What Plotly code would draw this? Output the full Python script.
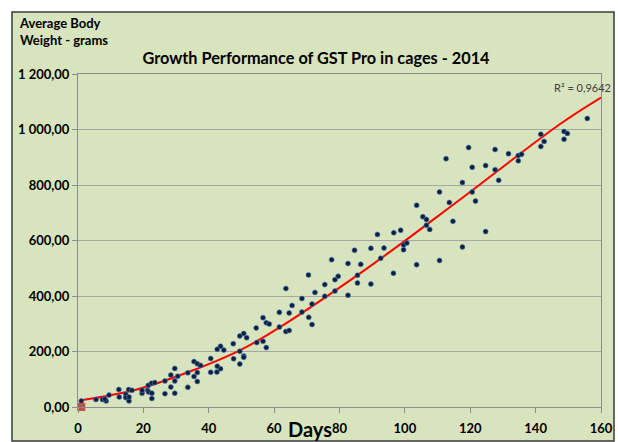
import plotly.graph_objects as go

# Scatter data (day, average body weight g)
days = [1, 5.5, 7.5, 8.6, 8.2, 9.5, 12.5, 12.6, 14.6, 14.6, 15.6, 15.6, 15.5, 16.5,
        19.6, 19.6, 21.3, 21.5, 21.6, 22.5, 22.6, 22.6, 23.5, 26.6, 26.6, 28.4, 28.4,
        29.6, 29.6, 29.6, 30.5, 33.6, 33.6,
        35.5, 36.5, 37.5, 36.5, 35.5, 36.5, 40.6, 42.5, 43.6, 42.6, 42.6, 43.6, 44.6,
        40.6, 49.5, 50.7, 51.6, 47.5, 49.5, 47.6, 50.7, 50.7, 49.5, 56.6, 57.6, 58.5,
        54.5, 54.7, 56.6, 57.6, 63.6, 65.5, 61.6, 64.6, 61.6, 63.6, 64.6,
        91.6, 84.6, 89.6, 77.6, 82.6, 86.5, 70.5, 79.6, 78.6, 85.5, 85.5, 89.6, 75.5,
        82.6, 72.5, 75.5, 78.6, 68.5, 71.6, 68.5, 70.6, 71.6,
        119.5, 112.6, 117.6, 110.6, 113.6, 103.6, 105.5, 106.6, 114.7, 106.6, 107.6,
        96.6, 98.7, 93.6, 99.6, 100.6, 99.6, 117.6, 92.6, 110.6, 103.6, 96.5,
        141.6, 142.6, 141.6, 127.6, 131.7, 134.7, 135.7, 134.7, 120.6, 124.7, 127.6,
        128.7, 120.6, 121.6, 124.7,
        155.8, 148.7, 149.7, 148.7]
weights = [22, 27, 27, 22, 29, 43, 63, 36, 46, 34, 22, 36, 63, 60,
           50, 60, 60, 78, 54, 86, 50, 31, 88, 48, 94, 115, 72,
           50, 139, 94, 111, 123, 71,
           164, 156, 150, 124, 110, 92, 125, 126, 138, 147, 208, 219, 205,
           175, 256, 265, 250, 228, 201, 174, 184, 179, 155, 322, 304, 299,
           285, 232, 237, 214, 427, 366, 341, 339, 288, 272, 276,
           622, 565, 572, 531, 517, 514, 476, 471, 459, 475, 447, 443, 441,
           403, 413, 399, 418, 391, 371, 342, 323, 297,
           935, 895, 809, 775, 737, 727, 686, 676, 669, 655, 640,
           628, 637, 573, 584, 591, 567, 577, 536, 528, 513, 482,
           983, 957, 939, 928, 913, 906, 911, 887, 864, 870, 855,
           817, 775, 742, 632,
           1040, 993, 986, 965]

# polynomial trendline
trend_days = [1, 18, 33.6, 49.5, 61.8, 89.3, 116.8, 147.4, 160]
trend_weights = [24, 63, 125, 204, 288, 507, 747, 1019, 1115]

start_day = [1]
start_weight = [0]

y_ticks = [0, 200, 400, 600, 800, 1000, 1200]
y_tick_labels = ["0,00", "200,00", "400,00", "600,00", "800,00", "1 000,00", "1 200,00"]
x_ticks = [0, 20, 40, 60, 80, 100, 120, 140, 160]
x_tick_labels = ["0", "20", "40", "60", "80", "100", "120", "140", "160"]

title_text = "Growth Performance of GST Pro in cages - 2014"
y_title = "Average Body<br>Weight - grams"
x_title = "Days"
r2_text = "R² = 0,9642"

GREEN = "#D7E4BD"
W, H = 618, 442
ML, MR, MT, MB = 78, 17, 74, 35
PW, PH = W - ML - MR, H - MT - MB

fig = go.Figure()
fig.add_trace(go.Scatter(x=trend_days, y=trend_weights, mode="lines",
                         line=dict(color="#FF0000", width=2, shape="spline", smoothing=1),
                         hoverinfo="skip", showlegend=False))
fig.add_trace(go.Scatter(x=days, y=weights, mode="markers",
                         marker=dict(color="#0F1E3C", size=5,
                                     line=dict(color="#4F81BD", width=0.6)),
                         showlegend=False))
fig.add_trace(go.Scatter(x=start_day, y=start_weight, mode="markers",
                         marker=dict(color="#C0504D", size=8, symbol="square"),
                         showlegend=False, cliponaxis=False))

def px2paper_x(px):
    return (px - ML) / PW

def py2paper_y(py):
    return (H - MB - py) / PH

fig.add_shape(type="rect", xref="paper", yref="paper", layer="below",
              x0=px2paper_x(12), x1=px2paper_x(614),
              y0=py2paper_y(441), y1=py2paper_y(12),
              fillcolor=GREEN, line=dict(color="#3A3A3A", width=1.5))

bold = lambda s: "<b>" + s + "</b>"

fig.update_layout(
    width=W, height=H,
    margin=dict(l=ML, r=MR, t=MT, b=MB, autoexpand=False),
    paper_bgcolor="white",
    plot_bgcolor="rgba(0,0,0,0)",
    font=dict(family="Lato, Open Sans, sans-serif", color="#000000"),
    title=dict(text=bold(title_text), xref="container", yref="container",
               x=316 / W, y=1 - 58 / H, xanchor="center", yanchor="middle",
               font=dict(size=16.3, color="#000000")),
    xaxis=dict(range=[0, 160], tickvals=x_ticks, ticktext=[bold(t) for t in x_tick_labels],
               showgrid=False, zeroline=False, automargin=False,
               showline=True, linecolor="#8C8C8C", linewidth=1, mirror=True,
               ticks="outside", ticklen=5, tickcolor="#8C8C8C",
               ticklabelstandoff=4,
               tickfont=dict(size=13, family="Lato", color="#000000")),
    yaxis=dict(range=[0, 1200], tickvals=y_ticks, ticktext=[bold(t) for t in y_tick_labels],
               showgrid=True, gridcolor="#A6A6A6", gridwidth=1, zeroline=False,
               automargin=False,
               showline=True, linecolor="#8C8C8C", linewidth=1, mirror=True,
               ticks="outside", ticklen=5, tickcolor="#8C8C8C",
               tickfont=dict(size=13, family="Lato", color="#000000")),
)

fig.add_annotation(text=bold(y_title), xref="paper", yref="paper",
                   x=px2paper_x(17), y=py2paper_y(13), xanchor="left", yanchor="top",
                   align="left", showarrow=False,
                   font=dict(size=13, family="Lato", color="#000000"))
fig.add_annotation(text=bold(x_title), xref="paper", yref="paper",
                   x=px2paper_x(310), y=py2paper_y(429), xanchor="center", yanchor="middle",
                   showarrow=False, borderpad=0,
                   font=dict(size=20, family="Lato", color="#000000"))
fig.add_annotation(text=r2_text, xref="paper", yref="paper",
                   x=px2paper_x(613), y=py2paper_y(87), xanchor="right", yanchor="middle",
                   showarrow=False, font=dict(size=11, family="Lato", color="#404040"))

fig.write_html("out.html", config={"displayModeBar": False},
               post_script="document.body.style.margin='0';")
